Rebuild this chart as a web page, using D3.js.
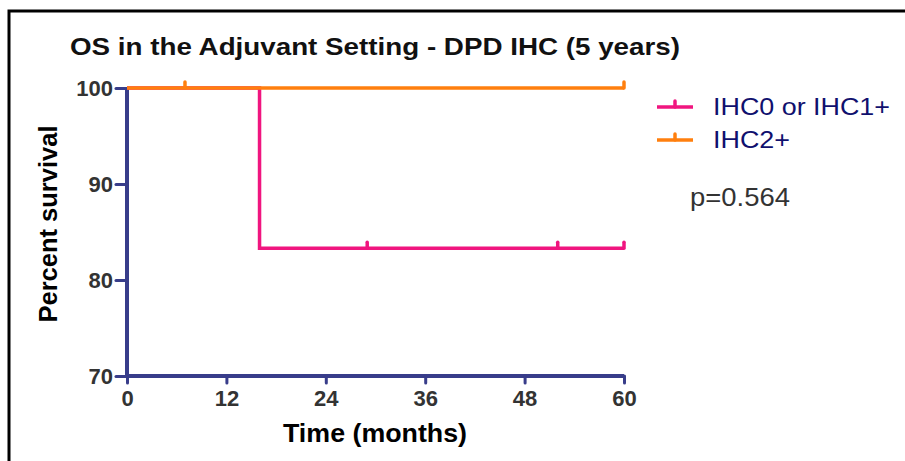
<!DOCTYPE html>
<html>
<head>
<meta charset="utf-8">
<script src="https://cdn.jsdelivr.net/npm/d3@7"></script>
<style>
body{margin:0;background:#fff;}
svg text{font-family:"Liberation Sans",Arial,sans-serif;}
</style>
</head>
<body>
<div id="chart"></div>
<script>
// survival steps: [month, percent]
var pinkSteps=[[0,100],[16,100],[16,83.3],[60,83.3]];
var pinkCensor=[[29,83.3],[52,83.3],[60,83.3]];
var orangeSteps=[[0,100],[60,100]];
var orangeCensor=[[7,100],[60,100]];
var xTicks=[0,12,24,36,48,60];
var yTicks=[70,80,90,100];
var seriesNames=["IHC0 or IHC1+","IHC2+"];
var seriesColors=["#f0157f","#ff7f0e"];

var W=905,H=461;
var axisColor="#383d8a";
var svg=d3.select("#chart").append("svg").attr("width",W).attr("height",H);

// frame
svg.append("path").attr("d","M9,"+H+"V11H"+W)
	.attr("fill","none").attr("stroke","#000").attr("stroke-width",3);

var x=d3.scaleLinear().domain([0,60]).range([127,624]);
var y=d3.scaleLinear().domain([70,100]).range([376,88]);

svg.append("text").attr("x",70).attr("y",55)
	.style("font-size","24px").attr("font-weight","bold").attr("fill","#111")
	.attr("textLength",610).attr("lengthAdjust","spacingAndGlyphs")
	.text("OS in the Adjuvant Setting - DPD IHC (5 years)");

var line=d3.line().x(function(d){return x(d[0]);}).y(function(d){return y(d[1]);});

function drawSeries(steps,censor,color){
	svg.append("path").datum(steps).attr("d",line)
		.attr("fill","none").attr("stroke",color).attr("stroke-width",3.5);
	svg.selectAll(null).data(censor).enter().append("line")
		.attr("x1",function(d){return x(d[0]);}).attr("x2",function(d){return x(d[0]);})
		.attr("y1",function(d){return y(d[1])-6;}).attr("y2",function(d){return y(d[1]);})
		.attr("stroke",color).attr("stroke-width",3.5).attr("stroke-linecap","round");
}

// axes
var xAxis=svg.append("g").attr("transform","translate(0,"+y(70)+")")
	.call(d3.axisBottom(x).tickValues(xTicks).tickSize(7).tickPadding(6));
var yAxis=svg.append("g").attr("transform","translate("+x(0)+",0)")
	.call(d3.axisLeft(y).tickValues(yTicks).tickSize(11).tickPadding(3));
[xAxis,yAxis].forEach(function(g){
	g.attr("font-size",null).attr("font-family",null);
	g.select(".domain").attr("stroke",axisColor).attr("stroke-width",4).attr("d",
		g===xAxis?"M"+x(0)+",0H"+x(60):"M0,"+y(70)+"V"+y(100));
	g.selectAll(".tick line").attr("stroke",axisColor).attr("stroke-width",3).attr("stroke-linecap","round");
	g.selectAll(".tick text").style("font-size","22px").attr("font-weight","bold").attr("fill","#333");
});
xAxis.selectAll(".tick text").attr("dy","0.78em");
yAxis.selectAll(".tick text").attr("dy","0.36em");

drawSeries(pinkSteps,pinkCensor,seriesColors[0]);
drawSeries(orangeSteps,orangeCensor,seriesColors[1]);

svg.append("text").attr("x",375).attr("y",442).attr("text-anchor","middle")
	.style("font-size","25px").attr("font-weight","bold").attr("fill","#000")
	.attr("textLength",184).attr("lengthAdjust","spacingAndGlyphs").text("Time (months)");
svg.append("text").attr("transform","translate(57,224) rotate(-90)").attr("text-anchor","middle")
	.style("font-size","25px").attr("font-weight","bold").attr("fill","#000")
	.attr("textLength",197).attr("lengthAdjust","spacingAndGlyphs").text("Percent survival");

// legend
var legWidths=[177,77];
var leg=svg.selectAll("g.leg").data(seriesNames).enter().append("g").attr("class","leg")
	.attr("transform",function(d,i){return "translate(657,"+(107+i*33)+")";});
leg.append("line").attr("x1",0).attr("x2",36).attr("stroke",function(d,i){return seriesColors[i];})
	.attr("stroke-width",3.5);
leg.append("line").attr("x1",18).attr("x2",18).attr("y1",-6).attr("y2",0)
	.attr("stroke",function(d,i){return seriesColors[i];}).attr("stroke-width",3.5).attr("stroke-linecap","round");
leg.append("text").attr("x",56).attr("y",8).style("font-size","24px").attr("fill","#10106e")
	.attr("textLength",function(d,i){return legWidths[i];}).attr("lengthAdjust","spacingAndGlyphs")
	.text(function(d){return d;});

svg.append("text").attr("x",690).attr("y",206).style("font-size","25px").attr("fill","#333")
	.attr("textLength",100).attr("lengthAdjust","spacingAndGlyphs").text("p=0.564");
</script>
</body>
</html>
